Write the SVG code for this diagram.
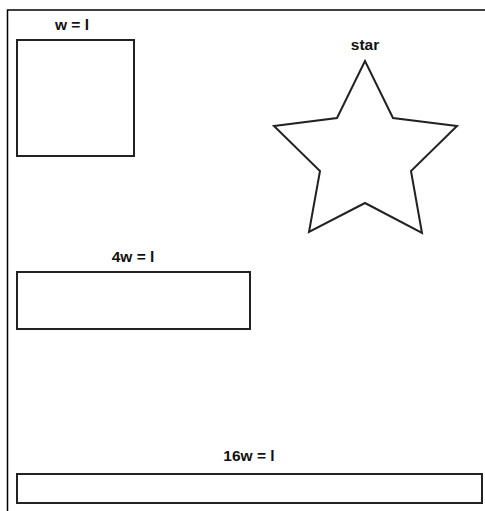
<svg xmlns="http://www.w3.org/2000/svg" width="485" height="511" viewBox="0 0 485 511">
<style>
.shape{fill:none;stroke:#222;stroke-width:2}
.lbl{font-family:"Liberation Sans",Arial,sans-serif;font-weight:bold;font-size:15.5px;fill:#111;text-anchor:middle}
.frame{fill:none;stroke:#000;stroke-width:1.5}
</style>
<rect width="485" height="511" fill="#fff"/>
<path class="frame" d="M7.5,511 V10 H485"/>
<g id="square">
<rect class="shape" x="17" y="40" width="117" height="116"/>
<text class="lbl" x="72" y="29.5">w = l</text>
</g>
<g id="star">
<polygon class="shape" stroke-width="1.5" points="365,61 337,118 274,126 320,171 309,232 365,203 422,233 411,171 457,126 393,118"/>
<text class="lbl" x="365" y="49.5">star</text>
</g>
<g id="rect4">
<rect class="shape" x="17" y="272" width="233" height="57"/>
<text class="lbl" x="133" y="262">4w = l</text>
</g>
<g id="rect16">
<rect class="shape" x="17" y="474" width="465" height="29"/>
<text class="lbl" x="249" y="461">16w = l</text>
</g>
<g id="connectors"/>
</svg>
